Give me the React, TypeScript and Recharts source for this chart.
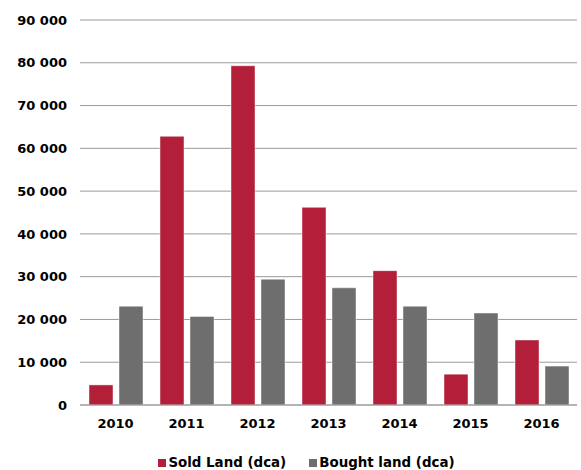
import { Bar, BarChart, CartesianGrid, Legend, XAxis, YAxis } from 'recharts';

const years = ['2010', '2011', '2012', '2013', '2014', '2015', '2016'];
const soldLand = [4700, 62800, 79300, 46200, 31400, 7200, 15200];
const boughtLand = [23100, 20700, 29400, 27400, 23100, 21500, 9100];
const yTicks = [0, 10000, 20000, 30000, 40000, 50000, 60000, 70000, 80000, 90000];

const RED = '#B31E38';
const GRAY = '#6E6E6E';
const FONT = '"DejaVu Sans", Verdana, sans-serif';

const series = [
  { key: 'sold', name: 'Sold Land (dca)', color: RED },
  { key: 'bought', name: 'Bought land (dca)', color: GRAY },
];

const chartData = years.map((year, i) => ({
  year,
  sold: soldLand[i],
  bought: boughtLand[i],
}));

const fmt = (v: number) => String(v).replace(/\B(?=(\d{3})+(?!\d))/g, ' ');

function ChartLegend() {
  return (
    <div
      style={{
        display: 'flex',
        justifyContent: 'center',
        gap: 23,
        fontFamily: FONT,
        fontWeight: 700,
        fontSize: 13.4,
        color: '#000',
        paddingLeft: 36,
        marginTop: 18,
      }}
    >
      {series.map((s) => (
        <span key={s.key} style={{ display: 'flex', alignItems: 'center' }}>
          <span
            style={{ width: 8, height: 8, background: s.color, marginRight: 2, display: 'inline-block' }}
          />
          {s.name}
        </span>
      ))}
    </div>
  );
}

export default function App() {
  return (
    <div style={{ position: 'absolute', left: 0, top: 0, background: '#fff' }}>
      <BarChart
        width={581}
        height={470}
        data={chartData}
        margin={{ top: 20, right: 4, left: 0, bottom: 2 }}
        barSize={24}
        barGap={6}
      >
        <CartesianGrid vertical={false} stroke="#9a9a9a" strokeWidth={1} />
        <XAxis
          dataKey="year"
          height={32}
          tickLine={false}
          tickSize={0}
          tickMargin={14}
          axisLine={{ stroke: '#9a9a9a' }}
          tick={{ fill: '#000', fontSize: 13, fontWeight: 700, fontFamily: FONT }}
          interval={0}
        />
        <YAxis
          width={80}
          domain={[0, 90000]}
          ticks={yTicks}
          tickFormatter={fmt}
          tickLine={false}
          tickSize={0}
          tickMargin={13}
          axisLine={false}
          tick={{ fill: '#000', fontSize: 13, fontWeight: 700, fontFamily: FONT }}
        />
        <Legend verticalAlign="bottom" height={31} content={<ChartLegend />} />
        {series.map((s) => (
          <Bar
            key={s.key}
            dataKey={s.key}
            name={s.name}
            fill={s.color}
            stroke="rgba(255,255,255,0.45)"
            strokeWidth={1}
            isAnimationActive={false}
          />
        ))}
      </BarChart>
    </div>
  );
}
